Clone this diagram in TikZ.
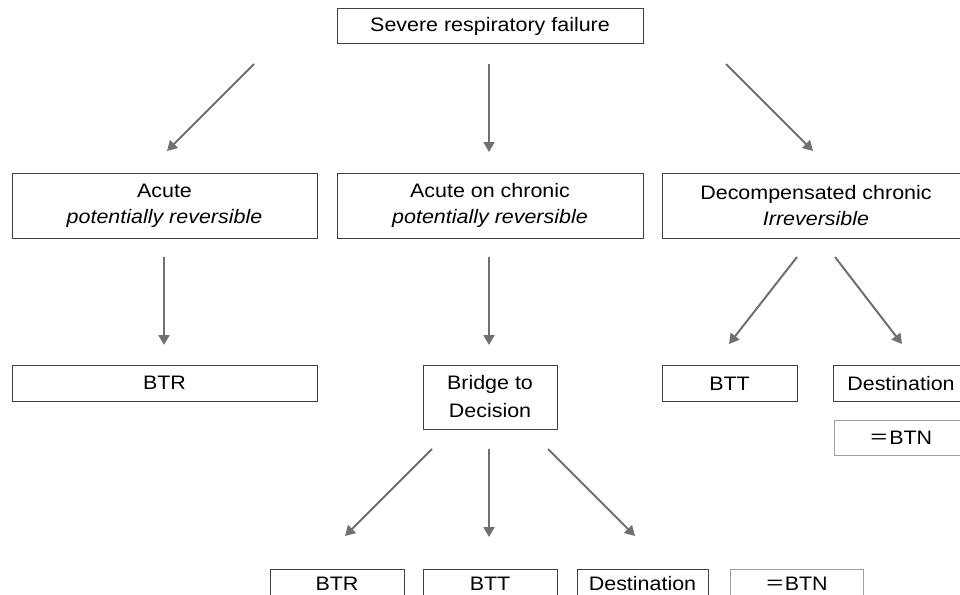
\documentclass[tikz,border=0pt]{standalone}
\usepackage{fontspec}
\setmainfont[FakeStretch=1.1]{Liberation Sans}
\newfontfamily\cjk{Noto Sans CJK JP}
\usetikzlibrary{arrows.meta}
\definecolor{boxgray}{HTML}{404040}
\definecolor{lightbox}{HTML}{A0A0A0}
\definecolor{arrgray}{HTML}{707070}
\begin{document}
\begin{tikzpicture}[x=1pt,y=-1pt,
  box/.style={draw=boxgray, line width=0.8pt, inner sep=0pt, minimum height=36pt,
    align=center, font=\fontsize{19.5}{26}\selectfont},
  lbox/.style={box, draw=lightbox},
  arr/.style={draw=arrgray, line width=2pt, -{Triangle[length=10pt,width=11pt]}}]
\useasboundingbox (0,0) rectangle (960,594);
\clip (0,0) rectangle (960,594);
\fill[white] (0,0) rectangle (960,594);

% top
\node[box, minimum width=306pt, minimum height=35pt] (top) at (490,26) {Severe respiratory failure};
% second row
\node[box, minimum width=305pt, minimum height=65pt] (acute) at (164.5,205.5) {Acute\\\textit{potentially reversible}};
\node[box, minimum width=306pt, minimum height=65pt] (aoc) at (490,205.5) {Acute on chronic\\\textit{potentially reversible}};
\node[box, minimum width=308pt, minimum height=65pt] (dec) at (816,205.5) {Decompensated chronic\\\textit{Irreversible}};
% third row
\node[box, minimum width=305pt] (btr1) at (164.5,383) {BTR};
\node[box, minimum width=134pt, minimum height=64pt, font=\fontsize{19.5}{28}\selectfont] (btd) at (490,397) {Bridge to\\Decision};
\node[box, minimum width=135pt] (btt1) at (729.5,383.5) {BTT};
\node[box, minimum width=136pt] (dest1) at (901,383.5) {Destination};
\node[lbox, minimum width=134pt, minimum height=35pt] (btn1) at (901,437.5) {{\cjk ＝}BTN};
% bottom row
\node[box, minimum width=134pt, minimum height=30pt] (btr2) at (337,584) {BTR};
\node[box, minimum width=134pt, minimum height=30pt] (btt2) at (490,584) {BTT};
\node[box, minimum width=131pt, minimum height=30pt] (dest2) at (642.5,584) {Destination};
\node[lbox, minimum width=133pt, minimum height=30pt] (btn2) at (796.5,584) {{\cjk ＝}BTN};

% arrow end points
\coordinate (a1s) at (254,64);  \coordinate (a1e) at (167,151);
\coordinate (a2s) at (489,64);  \coordinate (a2e) at (489,152);
\coordinate (a3s) at (726,64);  \coordinate (a3e) at (813,151);
\coordinate (b1s) at (164,257); \coordinate (b1e) at (164,345);
\coordinate (b2s) at (489,257); \coordinate (b2e) at (489,345);
\coordinate (b3s) at (797,257); \coordinate (b3e) at (729,344);
\coordinate (b4s) at (835,257); \coordinate (b4e) at (902,344);
\coordinate (c1s) at (432,449); \coordinate (c1e) at (345,536);
\coordinate (c2s) at (489,449); \coordinate (c2e) at (489,537);
\coordinate (c3s) at (548,449); \coordinate (c3e) at (635,536);

\draw[arr] (a1s) -- (a1e);
\draw[arr] (a2s) -- (a2e);
\draw[arr] (a3s) -- (a3e);
\draw[arr] (b1s) -- (b1e);
\draw[arr] (b2s) -- (b2e);
\draw[arr] (b3s) -- (b3e);
\draw[arr] (b4s) -- (b4e);
\draw[arr] (c1s) -- (c1e);
\draw[arr] (c2s) -- (c2e);
\draw[arr] (c3s) -- (c3e);
\end{tikzpicture}
\end{document}
